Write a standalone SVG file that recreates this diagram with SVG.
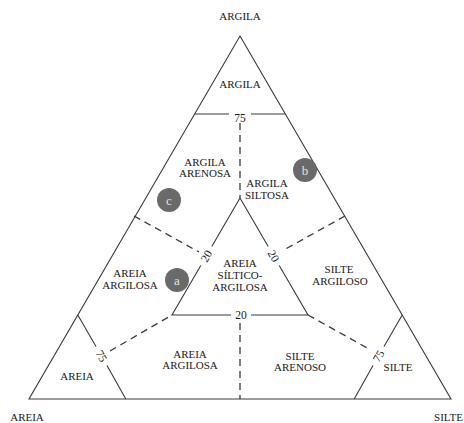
<svg xmlns="http://www.w3.org/2000/svg" width="464" height="423" viewBox="0 0 464 423">
<style>
.ln{fill:none;stroke:#3a3a3a;stroke-width:1.1}
.ds{fill:none;stroke:#3a3a3a;stroke-width:1.3;stroke-dasharray:7 5}
text{font-family:"Liberation Serif","Times New Roman",serif;font-size:11px;fill:#1a1a1a;text-anchor:middle}
.num{font-size:11.5px}
.dot{fill:#6a6a6a}
.dl{fill:#e2e2e2;font-size:13px}
</style>
<rect width="464" height="423" fill="#fff"/>
<g id="connectors">
<path class="ln" d="M240,36 L451,399 L29,399 Z"/>
<path class="ln" d="M194.7,114 H229 M251,114 H285.3"/>
<path class="ds" d="M240,123 V198"/>
<path class="ln" d="M240,198 L211.8,246.5 M200.8,265.5 L172,315 H231 M251,315 H308 L279.2,265.5 M268.2,246.5 L240,198"/>
<path class="ds" d="M240,323 V399"/>
<path class="ds" d="M134,216 L199,252"/>
<path class="ds" d="M345,216 L282,251"/>
<path class="ln" d="M77.8,315 L96,346.5 M107,365.5 L125.8,399"/>
<path class="ds" d="M110,351 L172,315"/>
<path class="ln" d="M402.2,315 L384,346.5 M373,365.5 L354.2,399"/>
<path class="ds" d="M308,315 L369,349"/>
</g>
<g id="labels-axes">
<text x="240" y="20">ARGILA</text>
<text x="27" y="421">AREIA</text>
<text x="463" y="421" style="text-anchor:end">SILTE</text>
</g>
<g id="scale-labels">
<text class="num" x="240" y="118" dy="4">75</text>
<text class="num" x="241" y="315" dy="4">20</text>
<text class="num" transform="translate(206.3,256) rotate(-60)" dy="4">20</text>
<text class="num" transform="translate(273.7,256) rotate(60)" dy="4">20</text>
<text class="num" transform="translate(101.5,356) rotate(60)" dy="4">75</text>
<text class="num" transform="translate(378.5,356) rotate(-60)" dy="4">75</text>
</g>
<g id="argila"><text x="240" y="88">ARGILA</text></g>
<g id="argila-arenosa"><text x="205" y="166">ARGILA</text><text x="205" y="177">ARENOSA</text></g>
<g id="argila-siltosa"><text x="267" y="187">ARGILA</text><text x="267" y="199">SILTOSA</text></g>
<g id="areia-siltico-argilosa"><text x="240" y="267">AREIA</text><text x="240" y="279">SÍLTICO-</text><text x="240" y="291">ARGILOSA</text></g>
<g id="areia-argilosa-1"><text x="130" y="277">AREIA</text><text x="130" y="289">ARGILOSA</text></g>
<g id="areia-argilosa-2"><text x="190" y="358">AREIA</text><text x="190" y="369">ARGILOSA</text></g>
<g id="areia"><text x="77" y="380">AREIA</text></g>
<g id="silte-argiloso"><text x="339" y="273">SILTE</text><text x="340" y="285">ARGILOSO</text></g>
<g id="silte-arenoso"><text x="300" y="360">SILTE</text><text x="300" y="371">ARENOSO</text></g>
<g id="silte"><text x="398" y="371">SILTE</text></g>
<g id="point-a"><circle class="dot" cx="177" cy="280" r="12"/><text class="dl" x="177" y="284.5">a</text></g>
<g id="point-b"><circle class="dot" cx="305" cy="170" r="12"/><text class="dl" x="305" y="174.5">b</text></g>
<g id="point-c"><circle class="dot" cx="169" cy="200" r="12"/><text class="dl" x="169" y="204.5">c</text></g>
</svg>
